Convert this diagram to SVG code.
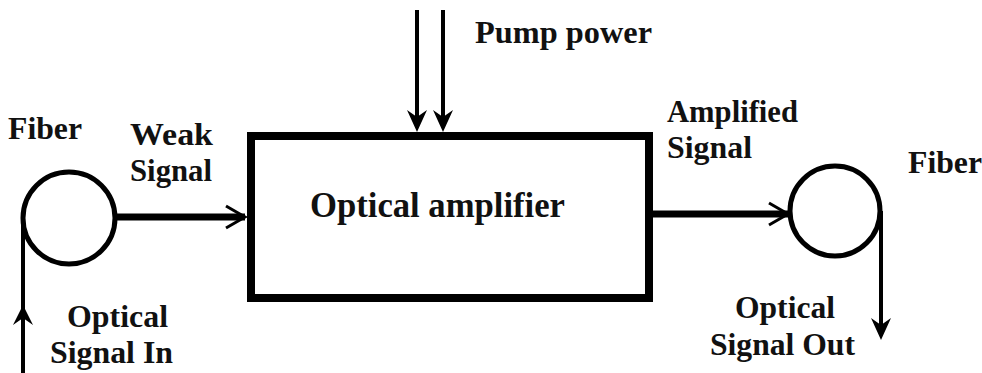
<svg xmlns="http://www.w3.org/2000/svg" width="982" height="373" viewBox="0 0 982 373">
  <style>
    text { font-family: 'Liberation Serif', 'DejaVu Serif', serif; font-weight: 700; font-size: 31px; fill: #111; }
    .main { font-size: 35px; }
    .thin { stroke: #000; stroke-width: 4; fill: none; }
    .thick { stroke: #000; stroke-width: 7; fill: none; }
    .shape { stroke: #000; fill: #fff; }
  </style>
  <defs>
    <marker id="solid" markerUnits="userSpaceOnUse" viewBox="-22 -12 34 24" refX="-8" refY="0" markerWidth="34" markerHeight="24" orient="auto" overflow="visible">
      <path d="M2,0 L-20,-10 L-13,0 L-20,10 Z" fill="#000"/>
    </marker>
    <marker id="solidMid" markerUnits="userSpaceOnUse" viewBox="-22 -12 34 24" refX="0" refY="0" markerWidth="34" markerHeight="24" orient="auto" overflow="visible">
      <path d="M0,0 L-20,-10 L-13,0 L-20,10 Z" fill="#000"/>
    </marker>
    <marker id="open" markerUnits="userSpaceOnUse" viewBox="-22 -14 26 28" refX="0" refY="0" markerWidth="26" markerHeight="28" orient="auto" overflow="visible">
      <path d="M-19,-11 L0,0 L-19,11" fill="none" stroke="#000" stroke-width="3"/>
    </marker>
  </defs>

  <g id="connectors">
    <path d="M23,373 L23,305 L23,222" class="thin" marker-mid="url(#solidMid)"/>
    <path d="M114,217 L245,217" class="thick" marker-end="url(#open)"/>
    <path d="M417,10 L417,122" class="thin" marker-end="url(#solid)"/>
    <path d="M443,10 L443,122" class="thin" marker-end="url(#solid)"/>
    <path d="M653,214 L788,214" class="thick" marker-end="url(#open)"/>
    <path d="M881,211 L881,330" class="thin" marker-end="url(#solid)"/>
  </g>

  <g id="fiber-in">
    <circle cx="69" cy="218" r="46" class="shape" stroke-width="5"/>
    <text x="8" y="139" textLength="74" lengthAdjust="spacingAndGlyphs">Fiber</text>
  </g>

  <g id="amplifier">
    <rect x="251" y="136" width="398" height="162" class="shape" stroke-width="8"/>
    <text x="310" y="217" class="main" textLength="255" lengthAdjust="spacingAndGlyphs">Optical amplifier</text>
  </g>

  <g id="fiber-out">
    <circle cx="835" cy="211" r="45" class="shape" stroke-width="5"/>
    <text x="908" y="173" textLength="74" lengthAdjust="spacingAndGlyphs">Fiber</text>
  </g>

  <g id="labels">
    <text x="130" y="145" textLength="83" lengthAdjust="spacingAndGlyphs">Weak</text>
    <text x="130" y="181" textLength="82" lengthAdjust="spacingAndGlyphs">Signal</text>
    <text x="475" y="43" textLength="177" lengthAdjust="spacingAndGlyphs">Pump power</text>
    <text x="667" y="122" textLength="131" lengthAdjust="spacingAndGlyphs">Amplified</text>
    <text x="667" y="158" textLength="85" lengthAdjust="spacingAndGlyphs">Signal</text>
    <text x="735" y="318" textLength="100" lengthAdjust="spacingAndGlyphs">Optical</text>
    <text x="710" y="355" textLength="145" lengthAdjust="spacingAndGlyphs">Signal Out</text>
    <text x="67" y="327" textLength="101" lengthAdjust="spacingAndGlyphs">Optical</text>
    <text x="50" y="363" textLength="123" lengthAdjust="spacingAndGlyphs">Signal In</text>
  </g>
</svg>
